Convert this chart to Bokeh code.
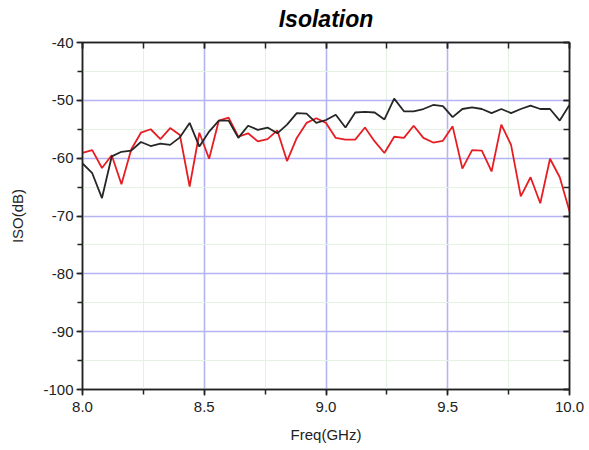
from bokeh.plotting import figure
from bokeh.layouts import row
from bokeh.models import (Range1d, LinearAxis, SingleIntervalTicker, NumeralTickFormatter,
                          CustomJSTickFormatter, Spacer)
from bokeh.embed import file_html
from bokeh.resources import INLINE

freq = [8.00, 8.04, 8.08, 8.12, 8.16, 8.20, 8.24, 8.28, 8.32, 8.36,
        8.40, 8.44, 8.48, 8.52, 8.56, 8.60, 8.64, 8.68, 8.72, 8.76,
        8.80, 8.84, 8.88, 8.92, 8.96, 9.00, 9.04, 9.08, 9.12, 9.16,
        9.20, 9.24, 9.28, 9.32, 9.36, 9.40, 9.44, 9.48, 9.52, 9.56,
        9.60, 9.64, 9.68, 9.72, 9.76, 9.80, 9.84, 9.88, 9.92, 9.96,
        10.00]

iso_red = [-59.1, -58.6, -61.7, -59.5, -64.5, -58.5, -55.6, -55.0, -56.7, -54.8,
           -56.0, -64.9, -55.6, -60.1, -53.5, -53.0, -56.3, -55.7, -57.1, -56.7,
           -55.2, -60.5, -56.5, -53.9, -53.1, -53.9, -56.5, -56.8, -56.8, -54.7,
           -57.1, -59.1, -56.3, -56.5, -54.4, -56.5, -57.3, -57.0, -54.5, -61.8,
           -58.6, -58.7, -62.3, -54.2, -57.7, -66.6, -63.3, -67.8, -60.1, -63.3,
           -69.2]

iso_black = [-60.9, -62.6, -66.9, -59.7, -58.9, -58.7, -57.2, -57.9, -57.5, -57.7,
             -56.4, -53.9, -58.0, -55.4, -53.5, -53.5, -56.5, -54.4, -55.1, -54.7,
             -55.7, -54.2, -52.2, -52.3, -53.9, -53.4, -52.5, -54.7, -52.1, -52.0,
             -52.1, -53.3, -49.7, -51.9, -51.9, -51.5, -50.8, -51.0, -52.9, -51.5,
             -51.2, -51.5, -52.2, -51.5, -52.2, -51.5, -50.9, -51.5, -51.5, -53.5,
             -50.8]

FONT = "Liberation Sans"

p = figure(frame_width=487, frame_height=347, output_backend="svg", toolbar_location=None,
           x_range=Range1d(8, 10), y_range=Range1d(-100, -40),
           x_axis_label="Freq(GHz)", y_axis_label="ISO(dB)", title="Isolation",
           min_border_left=70, min_border_right=17, min_border_top=34, min_border_bottom=0)

p.title.text_font = FONT
p.title.text_font_style = "bold italic"
p.title.text_font_size = "23px"
p.title.align = "center"
p.title.text_color = "black"
p.title.standoff = 21

p.background_fill_color = "white"
p.border_fill_color = "white"
p.outline_line_color = "#222222"
p.outline_line_width = 1.5

xt = SingleIntervalTicker(interval=0.5, num_minor_ticks=2)
yt = SingleIntervalTicker(interval=10, num_minor_ticks=2)

p.xaxis.ticker = xt
p.yaxis.ticker = yt
p.xaxis.formatter = NumeralTickFormatter(format="0.0")
p.yaxis.formatter = NumeralTickFormatter(format="0")

for ax in (p.xaxis[0], p.yaxis[0]):
    ax.axis_line_color = "#222222"
    ax.axis_line_width = 1.5
    ax.major_tick_line_color = "#222222"
    ax.minor_tick_line_color = "#222222"
    ax.major_tick_line_width = 1.5
    ax.minor_tick_line_width = 1.5
    ax.major_tick_out = 6
    ax.major_tick_in = 0
    ax.minor_tick_out = 5
    ax.minor_tick_in = 0
    ax.major_label_text_font = FONT
    ax.major_label_text_font_size = "15px"
    ax.major_label_text_color = "#222222"
    ax.axis_label_text_font = FONT
    ax.axis_label_text_font_size = "15px"
    ax.axis_label_text_font_style = "normal"
    ax.axis_label_text_color = "#222222"
    ax.major_label_standoff = 3

p.xaxis.major_label_standoff = 6
p.yaxis.axis_label_standoff = 14
p.xaxis.axis_label_standoff = 11

empty = CustomJSTickFormatter(code="return '';")
for loc, tk in (("right", yt), ("above", xt)):
    ax = LinearAxis(ticker=tk, formatter=empty)
    ax.axis_line_color = "#222222"
    ax.axis_line_width = 1.5
    ax.major_tick_line_color = "#222222"
    ax.minor_tick_line_color = "#222222"
    ax.major_tick_line_width = 1.5
    ax.minor_tick_line_width = 1.5
    ax.major_tick_in = 6
    ax.major_tick_out = 0
    ax.minor_tick_in = 6
    ax.minor_tick_out = 0
    ax.major_label_text_font_size = "1px"
    ax.major_label_standoff = 0
    p.add_layout(ax, loc)

p.xgrid.ticker = xt
p.ygrid.ticker = yt
for g in (p.xgrid[0], p.ygrid[0]):
    g.grid_line_color = "#b4b4f2"
    g.grid_line_width = 1.6
    g.minor_grid_line_color = "#e4f2e4"
    g.minor_grid_line_width = 1

p.line(freq, iso_red, line_color="#e61e24", line_width=1.8)
p.line(freq, iso_black, line_color="#262626", line_width=1.8)

page = row(Spacer(width=6, height=10), p)
page.styles = {"margin-top": "-7px"}

open("out.html", "w").write(file_html(page, INLINE))
